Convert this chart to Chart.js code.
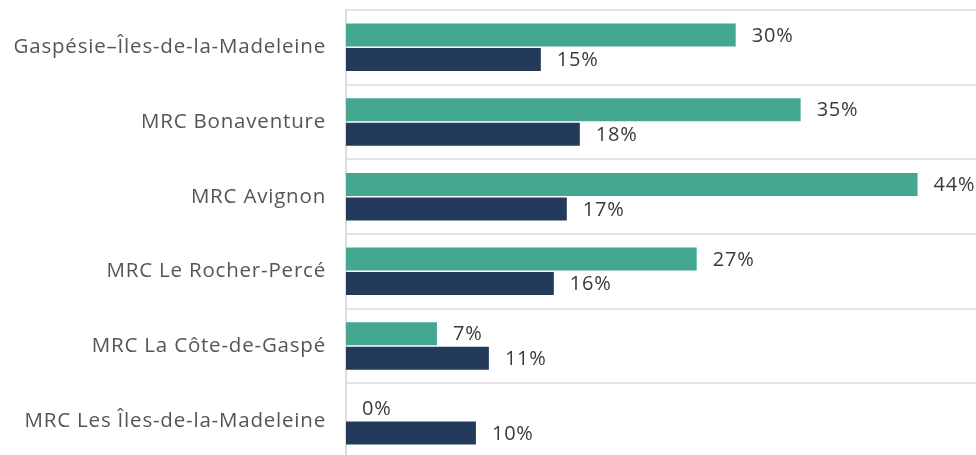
<!DOCTYPE html>
<html>
<head>
<meta charset="utf-8">
<script src="https://cdn.jsdelivr.net/npm/chart.js@4"></script>
<style>
  html, body { margin: 0; padding: 0; background: #fff; overflow: hidden; }
  #wrap { width: 976px; height: 458px; position: relative; }
</style>
</head>
<body>
<div id="wrap"><canvas id="chart"></canvas></div>
<script>
const categories = [
  'Gaspésie–Îles-de-la-Madeleine',
  'MRC Bonaventure',
  'MRC Avignon',
  'MRC Le Rocher-Percé',
  'MRC La Côte-de-Gaspé',
  'MRC Les Îles-de-la-Madeleine'
];
const seriesA = [30, 35, 44, 27, 7, 0];
const seriesB = [15, 18, 17, 16, 11, 10];

// wider letter spacing, like the original font
const spacing = {
  id: 'spacing',
  beforeLayout(chart) { chart.ctx.letterSpacing = '0.8px'; },
  beforeDraw(chart) { chart.ctx.letterSpacing = '0.8px'; }
};

// value labels to the right of each bar
const valueLabels = {
  id: 'valueLabels',
  afterDatasetsDraw(chart) {
    const ctx = chart.ctx;
    ctx.save();
    ctx.font = '20px "Open Sans"';
    ctx.fillStyle = '#3a3a3a';
    ctx.textAlign = 'left';
    ctx.textBaseline = 'middle';
    chart.data.datasets.forEach((ds, i) => {
      chart.getDatasetMeta(i).data.forEach((bar, j) => {
        ctx.fillText(ds.data[j] + '%', bar.x + 16, bar.y + 1);
      });
    });
    ctx.restore();
  }
};

new Chart(document.getElementById('chart'), {
  type: 'bar',
  data: {
    labels: categories,
    datasets: [
      {
        label: 'A',
        data: seriesA,
        backgroundColor: '#44a891',
        categoryPercentage: 0.656,
        barPercentage: 0.94
      },
      {
        label: 'B',
        data: seriesB,
        backgroundColor: '#243a5a',
        categoryPercentage: 0.656,
        barPercentage: 0.94
      }
    ]
  },
  options: {
    indexAxis: 'y',
    responsive: true,
    maintainAspectRatio: false,
    animation: false,
    layout: { padding: { top: 10, right: 0, bottom: 0, left: 0 } },
    plugins: {
      legend: { display: false },
      tooltip: { enabled: false }
    },
    scales: {
      x: {
        display: false,
        min: 0,
        max: 48.5
      },
      y: {
        afterFit(scale) {
          scale.width = 346;
          scale.paddingTop = 0;
          scale.paddingBottom = 0;
        },
        border: { display: true, color: '#dcdcdc', width: 2 },
        grid: { color: '#e3e3e3', lineWidth: 2, drawTicks: false, offset: true },
        ticks: {
          color: '#555',
          padding: 20,
          font: { family: '"Open Sans"', size: 20.5 }
        }
      }
    }
  },
  plugins: [spacing, valueLabels]
});
</script>
</body>
</html>
